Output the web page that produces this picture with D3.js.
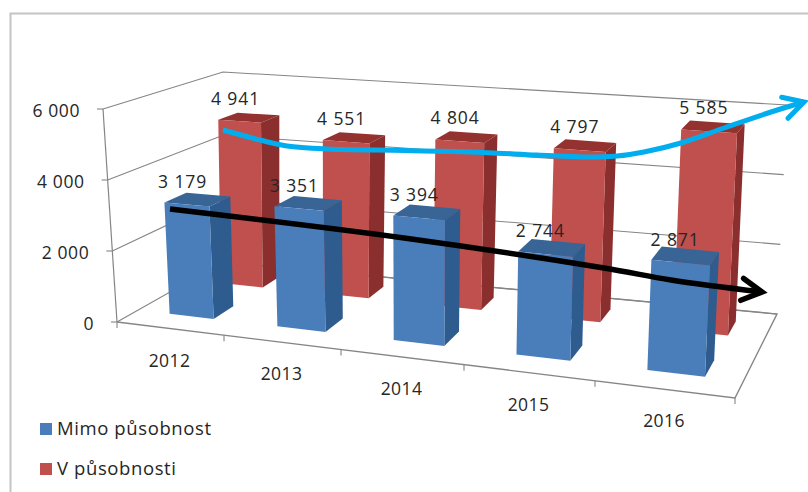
<!DOCTYPE html>
<html>
<head>
<meta charset="utf-8">
<script src="https://cdn.jsdelivr.net/npm/d3@7"></script>
<style>
  html, body { margin: 0; padding: 0; background: #fff; }
  svg { display: block; }
  text { font-family: "Open Sans", "Noto Sans", sans-serif; fill: #262626; }
</style>
</head>
<body>
<svg id="chart" width="808" height="492"></svg>
<script>
const years = ["2012", "2013", "2014", "2015", "2016"];
const mimoPusobnost = [3179, 3351, 3394, 2744, 2871];
const vPusobnosti = [4941, 4551, 4804, 4797, 5585];
const valueTicks = [0, 2000, 4000, 6000];
const seriesNames = ["Mimo působnost", "V působnosti"];

// Hand-drawn trend arrows laid over the chart
const cyanArrowX = [223, 260, 287, 327, 404, 471, 537, 584, 617, 644, 681, 724, 771, 804];
const cyanArrowY = [130, 140, 146, 149, 150.5, 152, 155, 157, 156, 152, 143, 128, 112, 102];
const blackArrowX = [170, 404, 604, 671, 762];
const blackArrowY = [209, 238, 268, 280, 292];

const svg = d3.select("#chart");
const fmt = d3.formatLocale({ decimal: ",", thousands: " ", grouping: [3], currency: ["", ""] }).format(",");
const mix = (a, b, t) => a + (b - a) * t;

// Perspective box: category position along the front and back floor edges,
// depth between them, and the value axis rising out of the floor.
const slots = d3.range(years.length + 1);
const frontX = d3.scaleLinear().domain(slots).range([117, 224, 341, 464, 595, 735]);
const frontY = d3.scaleLinear().domain([117, 735]).range([322, 398]);
const backX = d3.scaleLinear().domain(slots).range([223, 319, 424, 534, 651, 777]);
const backY = d3.scaleLinear().domain([223, 777]).range([262, 314]);
const height = d3.scaleLinear().domain([0, 6000]).range([0, 1]);
const frontRise = d3.scaleLinear().domain([0, 5]).range([213, 240]);
const backRise = d3.scaleLinear().domain([0, 5]).range([190, 209]);
const frontLean = d3.scaleLinear().domain([0, 5]).range([-14, 12]);
const backLean = d3.scaleLinear().domain([0, 5]).range([0, 10]);

function project(u, v, value) {
  const fx = frontX(u), bx = backX(u);
  const t = height(value);
  return [
    mix(fx, bx, v) + t * mix(frontLean(u), backLean(u), v),
    mix(frontY(fx), backY(bx), v) - t * mix(frontRise(u), backRise(u), v)
  ];
}

const line = d3.line();
const ink = "#858585";

// Chart frame, open on the right and at the bottom
svg.append("path")
  .attr("d", "M10.5,492V13.5H808")
  .attr("fill", "none").attr("stroke", "#c4c4c4").attr("stroke-width", 2);

// Wall gridlines run along the side wall, then the back wall
valueTicks.forEach(tick => {
  svg.append("path")
    .attr("d", line([project(0, 0, tick), project(0, 1, tick), project(5, 1, tick)]))
    .attr("fill", "none").attr("stroke", ink).attr("stroke-width", 1.1);
  const p = project(0, 0, tick);
  svg.append("line")
    .attr("x1", p[0] - 6).attr("x2", p[0]).attr("y1", p[1]).attr("y2", p[1])
    .attr("stroke", ink).attr("stroke-width", 1.1);
  svg.append("text")
    .attr("x", p[0] - 23).attr("y", p[1] + 8)
    .attr("text-anchor", "end").attr("font-size", 17.5).attr("letter-spacing", 0.6)
    .text(fmt(tick));
});

// Value axis and the floor outline
svg.append("path").attr("d", line([project(0, 0, 0), project(0, 0, 6000)]))
  .attr("fill", "none").attr("stroke", ink).attr("stroke-width", 1.2);
svg.append("path")
  .attr("d", line([project(0, 1, 0), project(5, 1, 0), project(5, 0, 0), project(0, 0, 0)]))
  .attr("fill", "none").attr("stroke", ink).attr("stroke-width", 1.4);

// Category ticks and labels along the front edge
slots.forEach(i => {
  const p = project(i, 0, 0);
  svg.append("line").attr("x1", p[0]).attr("x2", p[0]).attr("y1", p[1]).attr("y2", p[1] + 6)
    .attr("stroke", ink).attr("stroke-width", 1.1);
});
years.forEach((year, i) => {
  const p = project(i + 0.5, 0, 0);
  svg.append("text").attr("x", p[0] - 1).attr("y", p[1] + 38)
    .attr("text-anchor", "middle").attr("font-size", 17.5).attr("letter-spacing", 0.4).text(year);
});

// One 3-D column: top, right side and front faces
function drawBar(i, value, nearDepth, farDepth, colors) {
  const left = i + 0.3, right = i + 0.72;
  const g = svg.append("g");
  const face = (pts, fill) => g.append("path").attr("d", line(pts) + "Z").attr("fill", fill);
  face([project(left, nearDepth, value), project(right, nearDepth, value),
        project(right, farDepth, value), project(left, farDepth, value)], colors.top);
  face([project(right, nearDepth, 0), project(right, farDepth, 0),
        project(right, farDepth, value), project(right, nearDepth, value)], colors.side);
  face([project(left, nearDepth, 0), project(right, nearDepth, 0),
        project(right, nearDepth, value), project(left, nearDepth, value)], colors.front);
}

const redColors = { front: "#c0504d", side: "#8a2f2e", top: "#94322f" };
const blueColors = { front: "#4a7ebb", side: "#2f5c8f", top: "#386496" };

vPusobnosti.forEach((value, i) => drawBar(i, value, 0.7, 0.87, redColors));
mimoPusobnost.forEach((value, i) => drawBar(i, value, 0.2, 0.4, blueColors));

// Value labels sit above each column's top face
function drawLabels(values, depth, lift) {
  values.forEach((value, i) => {
    const p = project(i + 0.47, depth, value);
    svg.append("text").attr("x", p[0]).attr("y", p[1] - lift)
      .attr("text-anchor", "middle").attr("font-size", 17.5).attr("letter-spacing", 0.9).text(fmt(value));
  });
}
drawLabels(vPusobnosti, 0.7, 16.5);
drawLabels(mimoPusobnost, 0.2, 16.5);

// Legend
[blueColors.front, redColors.front].forEach((fill, i) => {
  const rowY = 423 + i * 40;
  svg.append("rect").attr("x", 40).attr("y", rowY).attr("width", 12).attr("height", 12).attr("fill", fill);
  svg.append("text").attr("x", 57).attr("y", rowY + 11.5)
    .attr("font-size", 18.5).attr("letter-spacing", 0.6).text(seriesNames[i]);
});

// Trend arrows
function drawArrow(xs, ys, color, width, headBack, headSpread) {
  const pts = xs.map((x, i) => [x, ys[i]]);
  svg.append("path")
    .attr("d", d3.line().curve(d3.curveCatmullRom.alpha(0.5))(pts))
    .attr("fill", "none").attr("stroke", color).attr("stroke-width", width).attr("stroke-linecap", "butt");
  const tip = pts[pts.length - 1], prev = pts[pts.length - 2];
  const a = Math.atan2(tip[1] - prev[1], tip[0] - prev[0]);
  const wing = s => [tip[0] - headBack * Math.cos(a) + s * headSpread * Math.sin(a),
                     tip[1] - headBack * Math.sin(a) - s * headSpread * Math.cos(a)];
  svg.append("path").attr("d", line([wing(1), tip, wing(-1)]))
    .attr("fill", "none").attr("stroke", color).attr("stroke-width", width)
    .attr("stroke-linecap", "round").attr("stroke-linejoin", "miter");
}
drawArrow(cyanArrowX, cyanArrowY, "#00aeef", 5, 20, 11);
drawArrow(blackArrowX, blackArrowY, "#000000", 5.5, 20, 11);
</script>
</body>
</html>
